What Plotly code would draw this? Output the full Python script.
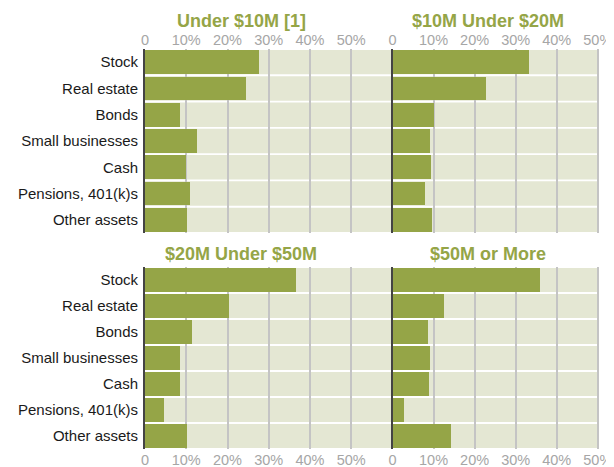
import plotly.graph_objects as go

# the page body has an 8px margin, so the figure is drawn 8px in from the corner
OFF = 8
W, H = 614 - OFF, 467 - OFF

categories = ["Stock", "Real estate", "Bonds", "Small businesses", "Cash",
              "Pensions, 401(k)s", "Other assets"]

under_10m = [27.7, 24.5, 8.6, 12.7, 9.9, 10.8, 10.2]
from_10m_to_20m = [33.1, 22.7, 10.1, 8.9, 9.2, 7.9, 9.6]
from_20m_to_50m = [36.5, 20.4, 11.5, 8.4, 8.6, 4.6, 10.3]
over_50m = [35.9, 12.4, 8.6, 8.9, 8.8, 2.6, 14.2]

panel_titles = ["Under $10M [1]", "$10M Under $20M", "$20M Under $50M", "$50M or More"]

tick_vals = [0, 10, 20, 30, 40, 50]
tick_text = ["0", "10%", "20%", "30%", "40%", "50%"]

GREEN = "#95a547"
BEIGE = "#e4e7d3"
GRID = "#c4c4c4"
FONT = "Liberation Sans, Arial, sans-serif"


def px_x(p):
    return (p - OFF) / W


def px_y(p):
    return 1 - (p - OFF) / H


x_left = [px_x(145), px_x(392.5)]
x_right = [px_x(392.5), px_x(599)]
y_top = [px_y(233), px_y(49)]
y_bot = [px_y(449), px_y(267)]

panels = [
    (under_10m, "x", "y", x_left, y_top, 60, "top", True),
    (from_10m_to_20m, "x2", "y2", x_right, y_top, 50, "top", False),
    (from_20m_to_50m, "x3", "y3", x_left, y_bot, 60, "bottom", True),
    (over_50m, "x4", "y4", x_right, y_bot, 50, "bottom", False),
]

rows = list(range(len(categories)))

fig = go.Figure()
shapes = []
layout = {}

for vals, xa, ya, xdom, ydom, xmax, side, labels in panels:
    fig.add_trace(go.Bar(
        x=vals, y=rows, orientation="h", width=0.9,
        marker=dict(color=GREEN, line=dict(width=0)),
        xaxis=xa, yaxis=ya, showlegend=False, hoverinfo="x+y",
    ))
    # beige row bands behind the gridlines
    for r in rows:
        shapes.append(dict(
            type="rect", xref=xa, yref=ya, x0=0, x1=xmax,
            y0=r - 0.465, y1=r + 0.465, fillcolor=BEIGE, line=dict(width=0),
            layer="below",
        ))
    xname = "xaxis" if xa == "x" else "xaxis" + xa[1:]
    yname = "yaxis" if ya == "y" else "yaxis" + ya[1:]
    layout[xname] = dict(
        domain=xdom, anchor=ya, range=[0, xmax + (0.3 if xmax == 50 else 0)],
        tickvals=tick_vals, ticktext=tick_text, side=side, automargin=False,
        showgrid=True, gridcolor=GRID, gridwidth=2, zeroline=False,
        showline=False, ticks="", ticklabelstandoff=0,
        tickfont=dict(size=14.5, color="#a6a6a6", family=FONT),
        fixedrange=True,
    )
    layout[yname] = dict(
        domain=ydom, anchor=xa, range=[6.5, -0.5], automargin=False,
        tickvals=rows, ticktext=categories, showticklabels=labels,
        showgrid=False, zeroline=False, showline=True, linecolor="#444444",
        linewidth=2, ticks="", ticklabelstandoff=2,
        tickfont=dict(size=15, color="#1a1a1a", family=FONT),
        fixedrange=True,
    )

title_pos = [(px_x(241), px_y(21)), (px_x(488), px_y(21)),
             (px_x(241), px_y(254)), (px_x(488), px_y(254))]
annotations = []
for t, (ax, ay) in zip(panel_titles, title_pos):
    annotations.append(dict(
        text="<b>" + t + "</b>", x=ax, y=ay, xref="paper", yref="paper",
        xanchor="center", yanchor="middle", showarrow=False,
        font=dict(size=18, color=GREEN, family=FONT),
    ))

fig.update_layout(
    width=W, height=H,
    margin=dict(l=0, r=0, t=0, b=0),
    paper_bgcolor="white", plot_bgcolor="white",
    barmode="overlay", bargap=0,
    shapes=shapes, annotations=annotations,
    font=dict(family=FONT),
    **layout,
)

fig.write_html("out.html")
